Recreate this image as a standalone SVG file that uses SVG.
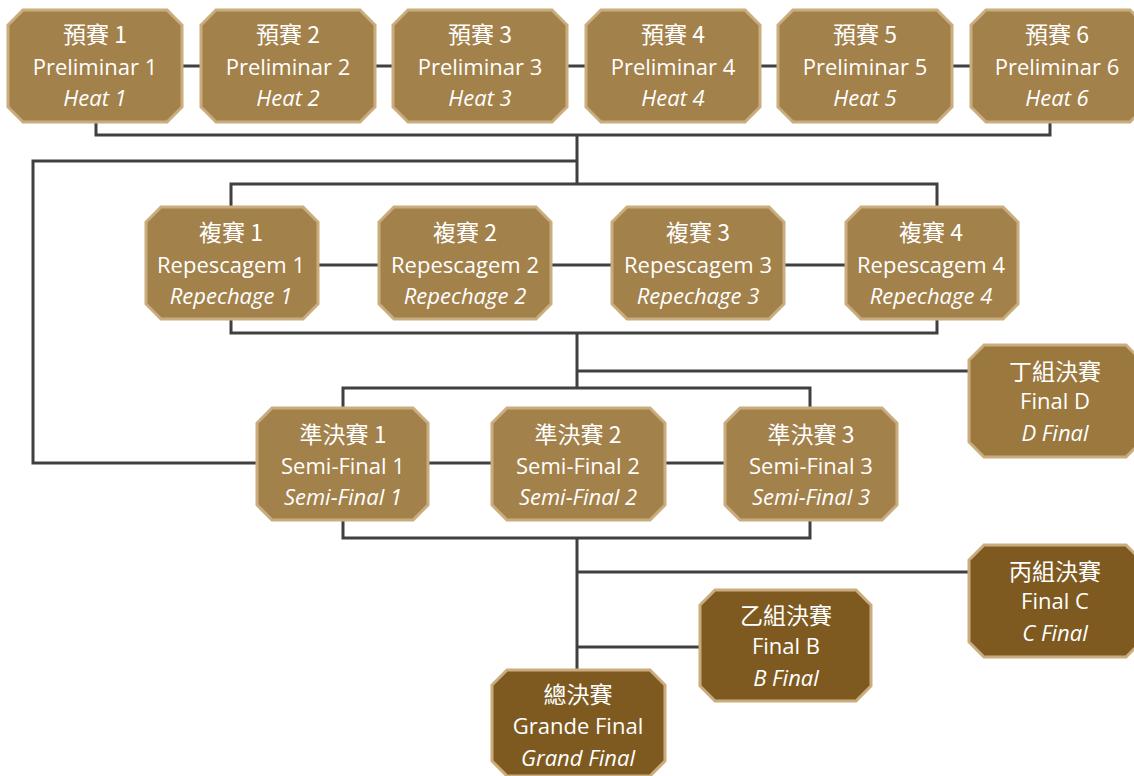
<svg xmlns="http://www.w3.org/2000/svg" width="1134" height="776" viewBox="0 0 1134 776">
<style>
.n{fill:#A3814B;stroke:#C9AD7E;stroke-width:3}
.nd{fill:#9B783E;stroke:#C9AD7E;stroke-width:3}
.nf{fill:#7E5A20;stroke:#C9AD7E;stroke-width:3}
.c{fill:none;stroke:#404040;stroke-width:3}
text{fill:#fff;text-anchor:middle;font-family:"Open Sans","Noto Sans CJK TC",sans-serif;font-size:22px}
.z{font-family:"Noto Sans CJK TC","Noto Sans",sans-serif;font-size:23px}
.i{font-style:italic}
</style>
<rect width="1134" height="776" fill="#fff"/>
<g id="connectors" class="c">
<path d="M182 66H200M375 66H393M567 66H586M760 66H778M952 66H971"/>
<path d="M96 122V135H1050V122M577 135V184M577 161H33V463H257"/>
<path d="M231 207V184H937V207"/>
<path d="M318 265H379M551 265H612M785 265H846"/>
<path d="M231 319V333H937V319M577 333V388M577 371H969"/>
<path d="M343 408V388H810V408"/>
<path d="M428 463H492M665 463H725"/>
<path d="M343 520V538H810V520M577 538V670M577 572H969M577 647H700"/>
</g>
<g id="heat1"><path class="n" d="M23 10H167L182 25V107L167 122H23L8 107V25Z"/><text class="z" x="95" y="43">預賽 1</text><text x="95" y="75">Preliminar 1</text><text class="i" x="95" y="106">Heat 1</text></g>
<g id="heat2"><path class="n" d="M216 10H360L375 25V107L360 122H216L201 107V25Z"/><text class="z" x="288" y="43">預賽 2</text><text x="288" y="75">Preliminar 2</text><text class="i" x="288" y="106">Heat 2</text></g>
<g id="heat3"><path class="n" d="M408 10H552L567 25V107L552 122H408L393 107V25Z"/><text class="z" x="480" y="43">預賽 3</text><text x="480" y="75">Preliminar 3</text><text class="i" x="480" y="106">Heat 3</text></g>
<g id="heat4"><path class="n" d="M601 10H745L760 25V107L745 122H601L586 107V25Z"/><text class="z" x="673" y="43">預賽 4</text><text x="673" y="75">Preliminar 4</text><text class="i" x="673" y="106">Heat 4</text></g>
<g id="heat5"><path class="n" d="M793 10H937L952 25V107L937 122H793L778 107V25Z"/><text class="z" x="865" y="43">預賽 5</text><text x="865" y="75">Preliminar 5</text><text class="i" x="865" y="106">Heat 5</text></g>
<g id="heat6"><path class="n" d="M986 10H1130L1145 25V107L1130 122H986L971 107V25Z"/><text class="z" x="1057" y="43">預賽 6</text><text x="1057" y="75">Preliminar 6</text><text class="i" x="1057" y="106">Heat 6</text></g>
<g id="rep1"><path class="n" d="M161 207H303L318 222V304L303 319H161L146 304V222Z"/><text class="z" x="231" y="241">複賽 1</text><text x="231" y="273">Repescagem 1</text><text class="i" x="231" y="304">Repechage 1</text></g>
<g id="rep2"><path class="n" d="M394 207H536L551 222V304L536 319H394L379 304V222Z"/><text class="z" x="465" y="241">複賽 2</text><text x="465" y="273">Repescagem 2</text><text class="i" x="465" y="304">Repechage 2</text></g>
<g id="rep3"><path class="n" d="M627 207H769L784 222V304L769 319H627L612 304V222Z"/><text class="z" x="698" y="241">複賽 3</text><text x="698" y="273">Repescagem 3</text><text class="i" x="698" y="304">Repechage 3</text></g>
<g id="rep4"><path class="n" d="M861 207H1003L1018 222V304L1003 319H861L846 304V222Z"/><text class="z" x="931" y="241">複賽 4</text><text x="931" y="273">Repescagem 4</text><text class="i" x="931" y="304">Repechage 4</text></g>
<g id="finalD"><path class="nd" d="M984 345H1126L1141 360V442L1126 457H984L969 442V360Z"/><text class="z" x="1055" y="380">丁組決賽</text><text x="1055" y="409">Final D</text><text class="i" x="1055" y="441">D Final</text></g>
<g id="semi1"><path class="n" d="M272 408H413L428 423V505L413 520H272L257 505V423Z"/><text class="z" x="343" y="443">準決賽 1</text><text x="343" y="474">Semi-Final 1</text><text class="i" x="343" y="505">Semi-Final 1</text></g>
<g id="semi2"><path class="n" d="M507 408H650L665 423V505L650 520H507L492 505V423Z"/><text class="z" x="578" y="443">準決賽 2</text><text x="578" y="474">Semi-Final 2</text><text class="i" x="578" y="505">Semi-Final 2</text></g>
<g id="semi3"><path class="n" d="M740 408H882L897 423V505L882 520H740L725 505V423Z"/><text class="z" x="811" y="443">準決賽 3</text><text x="811" y="474">Semi-Final 3</text><text class="i" x="811" y="505">Semi-Final 3</text></g>
<g id="finalC"><path class="nf" d="M984 545H1126L1141 560V642L1126 657H984L969 642V560Z"/><text class="z" x="1055" y="580">丙組決賽</text><text x="1055" y="609">Final C</text><text class="i" x="1055" y="641">C Final</text></g>
<g id="finalB"><path class="nf" d="M715 590H856L871 605V686L856 701H715L700 686V605Z"/><text class="z" x="786" y="624">乙組決賽</text><text x="786" y="654">Final B</text><text class="i" x="786" y="686">B Final</text></g>
<g id="grand"><path class="nf" d="M507 670H650L665 685V761L650 776H507L492 761V685Z"/><text class="z" x="578" y="703">總決賽</text><text x="578" y="734">Grande Final</text><text class="i" x="578" y="766">Grand Final</text></g>
</svg>
